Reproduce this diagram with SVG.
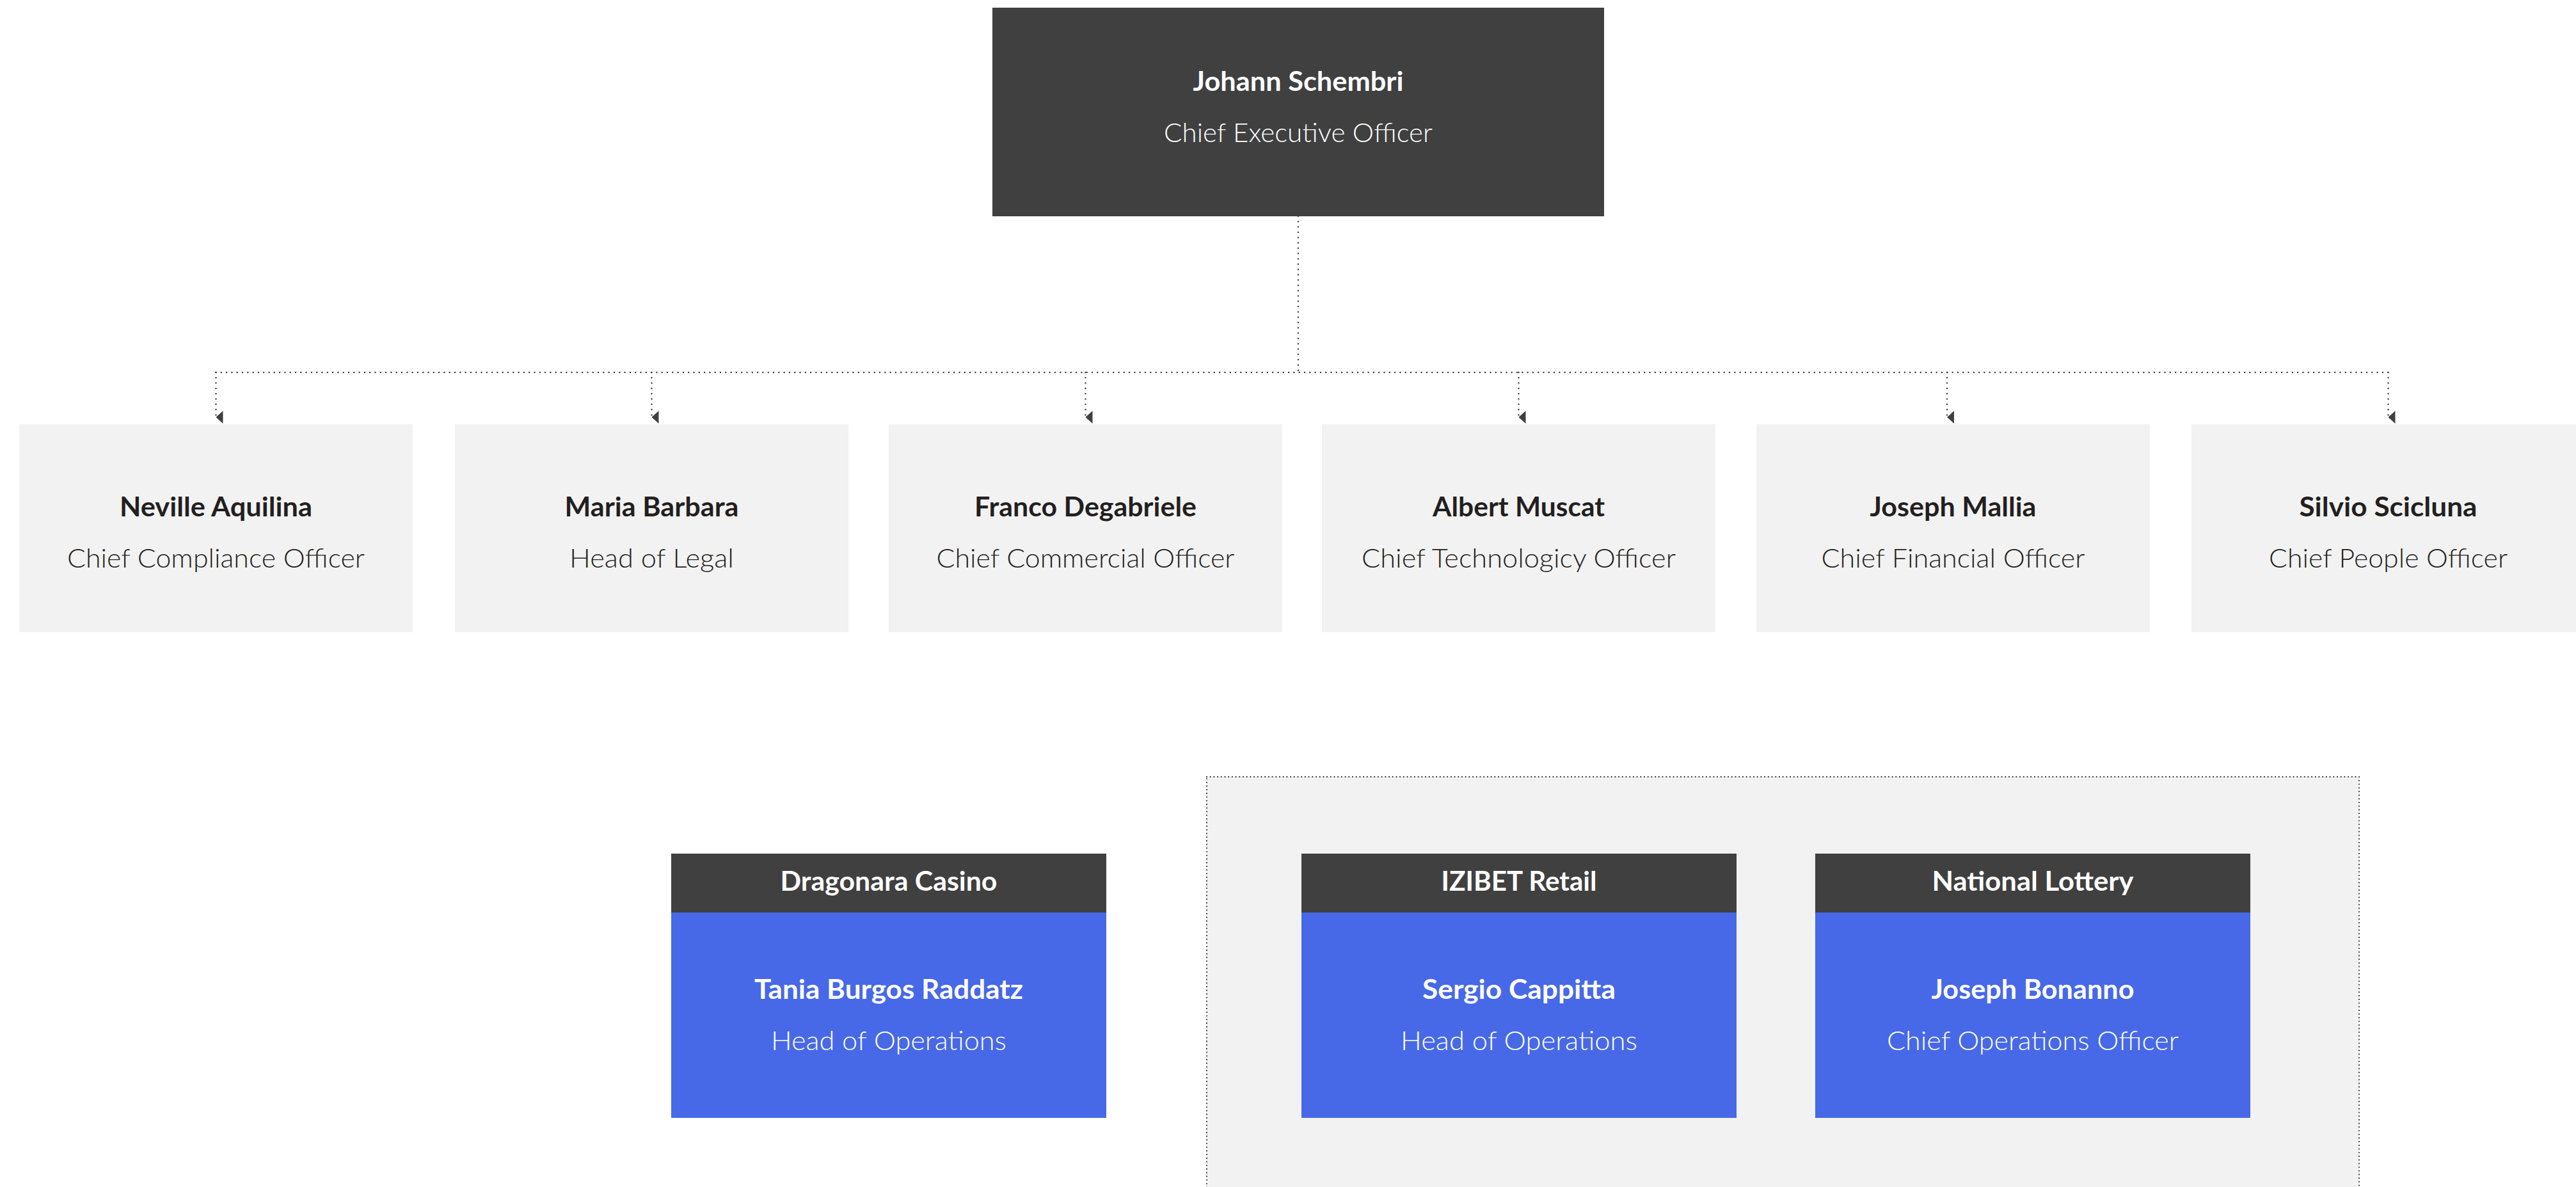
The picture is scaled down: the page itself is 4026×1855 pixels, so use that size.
<svg xmlns="http://www.w3.org/2000/svg" width="4026" height="1855" viewBox="0 0 4026 1855">
  <style>
    .bg { fill: #ffffff; }
    .dark { fill: #404040; }
    .light { fill: #f2f2f2; }
    .blue { fill: #4769e8; }
    .name { font-family: Lato, "Liberation Sans", sans-serif; font-weight: 700; font-size: 42px; text-anchor: middle; }
    .role { font-family: Lato, "Liberation Sans", sans-serif; font-weight: 300; font-size: 42px; text-anchor: middle; }
    .ink { fill: #231f20; }
    .white { fill: #ffffff; }
    .link { fill: none; stroke: #404040; stroke-width: 2.5; stroke-linecap: round; stroke-dasharray: 0 8.3; }
    .frame { fill: #f2f2f2; stroke: #404040; stroke-width: 2.3; stroke-linecap: round; stroke-dasharray: 0 5.7; }
  </style>
  <defs>
    <marker id="tip" viewBox="0 0 20 11" refX="10" refY="11" markerWidth="20" markerHeight="11" markerUnits="userSpaceOnUse" orient="auto-start-reverse">
      <path d="M0,0 L20,0 L10,11 Z" fill="#404040"/>
    </marker>
  </defs>

  <rect class="bg" x="0" y="0" width="4026" height="1855"/>

  <!-- business-unit container (runs off the bottom edge) -->
  <g id="unit-group">
    <rect class="frame" x="1886" y="1214" width="1801" height="700"/>
  </g>

  <!-- reporting lines -->
  <g id="connectors">
    <path class="link" d="M2029,338 V582"/>
    <path class="link" d="M337.5,582 H3732.5"/>
    <path class="link" d="M337.5,582 V652" marker-end="url(#tip)"/>
    <path class="link" d="M1018.5,582 V652" marker-end="url(#tip)"/>
    <path class="link" d="M1696.5,582 V652" marker-end="url(#tip)"/>
    <path class="link" d="M2373.5,582 V652" marker-end="url(#tip)"/>
    <path class="link" d="M3043,582 V652" marker-end="url(#tip)"/>
    <path class="link" d="M3732.5,582 V652" marker-end="url(#tip)"/>
  </g>

  <g id="ceo">
    <rect class="dark" x="1551" y="12" width="956" height="326"/>
    <text class="name white" x="2029" y="142" textLength="329" lengthAdjust="spacingAndGlyphs">Johann Schembri</text>
    <text class="role white" x="2029" y="222" textLength="420" lengthAdjust="spacingAndGlyphs">Chief Executive Officer</text>
  </g>

  <g id="cco">
    <rect class="light" x="30" y="663" width="615" height="325"/>
    <text class="name ink" x="337.5" y="807" textLength="301" lengthAdjust="spacingAndGlyphs">Neville Aquilina</text>
    <text class="role ink" x="337.5" y="887" textLength="465" lengthAdjust="spacingAndGlyphs">Chief Compliance Officer</text>
  </g>

  <g id="legal">
    <rect class="light" x="711" y="663" width="615" height="325"/>
    <text class="name ink" x="1018.5" y="807" textLength="272" lengthAdjust="spacingAndGlyphs">Maria Barbara</text>
    <text class="role ink" x="1018.5" y="887" textLength="257" lengthAdjust="spacingAndGlyphs">Head of Legal</text>
  </g>

  <g id="commercial">
    <rect class="light" x="1389" y="663" width="615" height="325"/>
    <text class="name ink" x="1696.5" y="807" textLength="347" lengthAdjust="spacingAndGlyphs">Franco Degabriele</text>
    <text class="role ink" x="1696.5" y="887" textLength="466" lengthAdjust="spacingAndGlyphs">Chief Commercial Officer</text>
  </g>

  <g id="technology">
    <rect class="light" x="2066" y="663" width="615" height="325"/>
    <text class="name ink" x="2373.5" y="807" textLength="269" lengthAdjust="spacingAndGlyphs">Albert Muscat</text>
    <text class="role ink" x="2373.5" y="887" textLength="491" lengthAdjust="spacingAndGlyphs">Chief Technologicy Officer</text>
  </g>

  <g id="finance">
    <rect class="light" x="2745" y="663" width="615" height="325"/>
    <text class="name ink" x="3052.5" y="807" textLength="260" lengthAdjust="spacingAndGlyphs">Joseph Mallia</text>
    <text class="role ink" x="3052.5" y="887" textLength="412" lengthAdjust="spacingAndGlyphs">Chief Financial Officer</text>
  </g>

  <g id="people">
    <rect class="light" x="3425" y="663" width="615" height="325"/>
    <text class="name ink" x="3732.5" y="807" textLength="278" lengthAdjust="spacingAndGlyphs">Silvio Scicluna</text>
    <text class="role ink" x="3732.5" y="887" textLength="373" lengthAdjust="spacingAndGlyphs">Chief People Officer</text>
  </g>

  <g id="dragonara">
    <rect class="dark" x="1049" y="1334" width="680" height="92"/>
    <rect class="blue" x="1049" y="1426" width="680" height="321"/>
    <text class="name white" x="1389" y="1392" textLength="339" lengthAdjust="spacingAndGlyphs">Dragonara Casino</text>
    <text class="name white" x="1389" y="1561" textLength="420" lengthAdjust="spacingAndGlyphs">Tania Burgos Raddatz</text>
    <text class="role white" x="1389" y="1641" textLength="368" lengthAdjust="spacingAndGlyphs">Head of Operations</text>
  </g>

  <g id="izibet">
    <rect class="dark" x="2034" y="1334" width="680" height="92"/>
    <rect class="blue" x="2034" y="1426" width="680" height="321"/>
    <text class="name white" x="2374" y="1392" textLength="243" lengthAdjust="spacingAndGlyphs">IZIBET Retail</text>
    <text class="name white" x="2374" y="1561" textLength="302" lengthAdjust="spacingAndGlyphs">Sergio Cappitta</text>
    <text class="role white" x="2374" y="1641" textLength="370" lengthAdjust="spacingAndGlyphs">Head of Operations</text>
  </g>

  <g id="lottery">
    <rect class="dark" x="2837" y="1334" width="680" height="92"/>
    <rect class="blue" x="2837" y="1426" width="680" height="321"/>
    <text class="name white" x="3177" y="1392" textLength="315" lengthAdjust="spacingAndGlyphs">National Lottery</text>
    <text class="name white" x="3177" y="1561" textLength="317" lengthAdjust="spacingAndGlyphs">Joseph Bonanno</text>
    <text class="role white" x="3177" y="1641" textLength="456" lengthAdjust="spacingAndGlyphs">Chief Operations Officer</text>
  </g>
</svg>
